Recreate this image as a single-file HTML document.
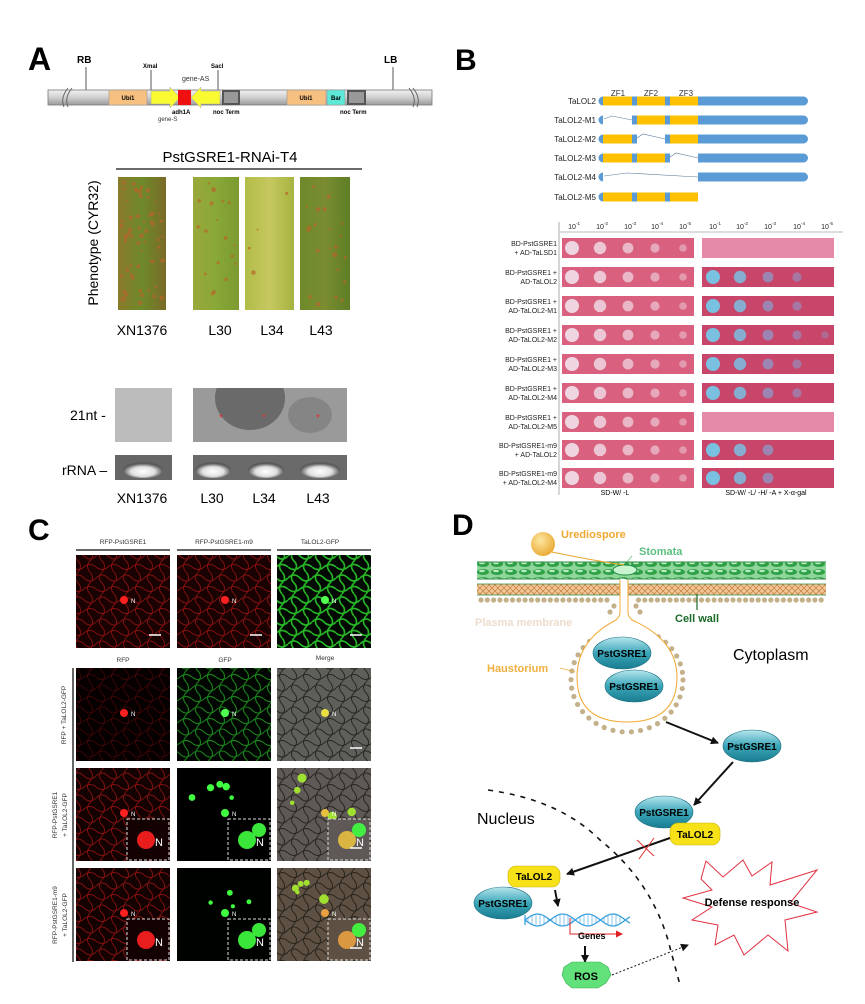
<!DOCTYPE html>
<html><head><meta charset="utf-8"><style>
html,body{margin:0;padding:0;background:#fff;}
svg{display:block;font-family:"Liberation Sans",Arial,sans-serif;}
</style></head><body>
<svg id="s" width="865" height="1004" viewBox="0 0 865 1004" xmlns="http://www.w3.org/2000/svg">
<defs id="defs">
<linearGradient id="bar" x1="0" y1="0" x2="0" y2="1"><stop offset="0" stop-color="#f2f2f2"/><stop offset="0.5" stop-color="#cfcfcf"/><stop offset="1" stop-color="#9a9a9a"/></linearGradient>
<linearGradient id="leafA" x1="0" y1="0" x2="1" y2="0"><stop offset="0" stop-color="#8a7a2a"/><stop offset="0.5" stop-color="#6e8a2a"/><stop offset="1" stop-color="#7a6a28"/></linearGradient>
<linearGradient id="leafB" x1="0" y1="0" x2="1" y2="0"><stop offset="0" stop-color="#9aa83a"/><stop offset="0.5" stop-color="#88a838"/><stop offset="1" stop-color="#7c9a30"/></linearGradient>
<linearGradient id="leafC" x1="0" y1="0" x2="1" y2="0"><stop offset="0" stop-color="#b2bc48"/><stop offset="0.5" stop-color="#c6c860"/><stop offset="1" stop-color="#a6b440"/></linearGradient>
<linearGradient id="leafD" x1="0" y1="0" x2="1" y2="0"><stop offset="0" stop-color="#6e8a2a"/><stop offset="0.5" stop-color="#7a8c30"/><stop offset="1" stop-color="#5e7e26"/></linearGradient>
<radialGradient id="rr" cx="0.5" cy="0.6" r="0.5"><stop offset="0" stop-color="#ffffff"/><stop offset="0.6" stop-color="#e0e0e0"/><stop offset="1" stop-color="#5a5a5a"/></radialGradient>
<linearGradient id="ell" x1="0" y1="0" x2="0" y2="1"><stop offset="0" stop-color="#b8e6ee"/><stop offset="0.5" stop-color="#3aa6b8"/><stop offset="1" stop-color="#1a7c90"/></linearGradient>
<radialGradient id="spore" cx="0.4" cy="0.35" r="0.7"><stop offset="0" stop-color="#fde6a0"/><stop offset="1" stop-color="#e8a830"/></radialGradient>
<clipPath id="blotclip"><rect x="193" y="388" width="154" height="54"/></clipPath>
<marker id="ah" markerWidth="8" markerHeight="8" refX="7" refY="4" orient="auto" markerUnits="userSpaceOnUse"><path d="M0,0 L8,4 L0,8 z" fill="#111"/></marker>
<marker id="ahr" markerWidth="7" markerHeight="7" refX="6" refY="3.5" orient="auto" markerUnits="userSpaceOnUse"><path d="M0,0 L7,3.5 L0,7 z" fill="#e02020"/></marker>
<pattern id="cells" width="14" height="8" patternUnits="userSpaceOnUse"><rect width="14" height="8" fill="#8fd69a"/><ellipse cx="7" cy="4" rx="6" ry="3" fill="#2fa048"/><ellipse cx="6" cy="3" rx="3" ry="1.2" fill="#b6ecc0"/></pattern>
<pattern id="wall" width="6" height="6" patternUnits="userSpaceOnUse"><rect width="6" height="6" fill="#f3c79a"/><path d="M0,6 L6,0 M0,0 L6,6" stroke="#c8864a" stroke-width="0.8"/></pattern>
</defs>

<!-- ========== PANEL A ========== -->
<text x="28" y="70" font-size="32" font-weight="bold">A</text>
<text x="77" y="63" font-size="10" font-weight="bold">RB</text>
<line x1="86" y1="67" x2="86" y2="90" stroke="#555"/>
<text x="384" y="63" font-size="10" font-weight="bold">LB</text>
<line x1="393" y1="67" x2="393" y2="90" stroke="#555"/>
<text x="143" y="68" font-size="6" font-weight="bold">XmaI</text>
<line x1="151" y1="70" x2="151" y2="90" stroke="#555"/>
<text x="211" y="68" font-size="6" font-weight="bold">SacI</text>
<line x1="218" y1="70" x2="218" y2="90" stroke="#555"/>
<text x="182" y="81" font-size="7" fill="#333">gene-AS</text>
<rect x="48" y="90" width="384" height="15" fill="url(#bar)" stroke="#777" stroke-width="0.8"/>
<path d="M68,88 q-8,10 -4,19 M72,88 q-8,10 -4,19" stroke="#666" fill="none"/>
<path d="M409,88 q8,10 4,19 M413,88 q8,10 4,19" stroke="#666" fill="none"/>
<rect x="109" y="90" width="38" height="15" fill="#f6c080" stroke="#999" stroke-width="0.6"/>
<text x="128" y="100" font-size="6" text-anchor="middle" font-weight="bold">Ubi1</text>
<path d="M151,91 H170 V87 L180,97.5 L170,108 V104 H151 z" fill="#fafa30" stroke="#aaa" stroke-width="0.5"/>
<rect x="178" y="90" width="13" height="15" fill="#ee1010"/>
<path d="M220,91 H201 V87 L191,97.5 L201,108 V104 H220 z" fill="#fafa30" stroke="#aaa" stroke-width="0.5"/>
<rect x="222" y="90" width="18" height="15" fill="#555"/><rect x="224" y="92" width="14" height="11" fill="#999"/>
<rect x="287" y="90" width="39" height="15" fill="#f6c080" stroke="#999" stroke-width="0.6"/>
<text x="306" y="100" font-size="6" text-anchor="middle" font-weight="bold">Ubi1</text>
<rect x="327" y="90" width="18" height="15" fill="#5ee8d8" stroke="#999" stroke-width="0.6"/>
<text x="336" y="100" font-size="6" text-anchor="middle" font-weight="bold">Bar</text>
<rect x="347" y="90" width="19" height="15" fill="#555"/><rect x="349" y="92" width="15" height="11" fill="#999"/>
<text x="172" y="114" font-size="6" font-weight="bold">adh1A</text>
<text x="158" y="121" font-size="6" fill="#333">gene-S</text>
<text x="213" y="114" font-size="6" font-weight="bold">noc Term</text>
<text x="340" y="114" font-size="6" font-weight="bold">noc Term</text>

<text x="230" y="162" font-size="15" text-anchor="middle">PstGSRE1-RNAi-T4</text>
<line x1="116" y1="169" x2="362" y2="169" stroke="#111" stroke-width="1.2"/>
<rect x="118" y="177" width="48" height="133" fill="url(#leafA)"/>
<rect x="193" y="177" width="46" height="133" fill="url(#leafB)"/>
<rect x="245" y="177" width="49" height="133" fill="url(#leafC)"/>
<rect x="300" y="177" width="50" height="133" fill="url(#leafD)"/>
<g id="rust" fill="#b8662a" opacity="0.7"></g>
<text transform="translate(98,243) rotate(-90)" font-size="14" text-anchor="middle">Phenotype (CYR32)</text>
<text x="142" y="335" font-size="14" text-anchor="middle">XN1376</text>
<text x="220" y="335" font-size="14" text-anchor="middle">L30</text>
<text x="272" y="335" font-size="14" text-anchor="middle">L34</text>
<text x="321" y="335" font-size="14" text-anchor="middle">L43</text>

<rect x="115" y="388" width="57" height="54" fill="#bcbcbc"/>
<rect x="193" y="388" width="154" height="54" fill="#9a9a9a"/>
<g clip-path="url(#blotclip)">
<ellipse cx="250" cy="398" rx="35" ry="32" fill="#3a3a3a" opacity="0.5"/>
<ellipse cx="310" cy="415" rx="22" ry="18" fill="#555" opacity="0.3"/>
</g>
<text x="219" y="421" font-size="10" fill="#e03030">*</text>
<text x="262" y="421" font-size="10" fill="#e03030">*</text>
<text x="316" y="421" font-size="10" fill="#e03030">*</text>
<text x="70" y="420" font-size="14">21nt -</text>
<rect x="115" y="455" width="57" height="25" fill="#666"/>
<rect x="193" y="455" width="154" height="25" fill="#6a6a6a"/>
<ellipse cx="143" cy="470" rx="20" ry="8" fill="url(#rr)"/>
<ellipse cx="213" cy="470" rx="18" ry="8" fill="url(#rr)"/>
<ellipse cx="266" cy="470" rx="18" ry="8" fill="url(#rr)"/>
<ellipse cx="320" cy="470" rx="20" ry="8" fill="url(#rr)"/>
<text x="62" y="475" font-size="14">rRNA –</text>
<text x="142" y="503" font-size="14" text-anchor="middle">XN1376</text>
<text x="212" y="503" font-size="14" text-anchor="middle">L30</text>
<text x="264" y="503" font-size="14" text-anchor="middle">L34</text>
<text x="318" y="503" font-size="14" text-anchor="middle">L43</text>

<!-- ========== PANEL B ========== -->
<text x="455" y="70" font-size="30" font-weight="bold">B</text>
<text x="618" y="96" font-size="8" text-anchor="middle" fill="#333">ZF1</text>
<text x="651" y="96" font-size="8" text-anchor="middle" fill="#333">ZF2</text>
<text x="686" y="96" font-size="8" text-anchor="middle" fill="#333">ZF3</text>
<g id="dom" font-size="8" fill="#222"></g>

<line x1="559" y1="222" x2="559" y2="495" stroke="#bbb" stroke-width="1.2"/>
<line x1="559" y1="232" x2="843" y2="232" stroke="#bbb" stroke-width="1"/>
<g id="hdr" font-size="7" fill="#222" text-anchor="middle"></g>
<g id="plates"></g>
<text x="615" y="495" font-size="7" text-anchor="middle">SD-W/ -L</text>
<text x="766" y="495" font-size="7" text-anchor="middle">SD-W/ -L/ -H/ -A + X-α-gal</text>

<!-- ========== PANEL C ========== -->
<text x="28" y="540" font-size="30" font-weight="bold">C</text>
<text x="123" y="544" font-size="6.5" text-anchor="middle" fill="#333">RFP-PstGSRE1</text>
<text x="224" y="544" font-size="6.5" text-anchor="middle" fill="#333">RFP-PstGSRE1-m9</text>
<text x="320" y="544" font-size="6.5" text-anchor="middle" fill="#333">TaLOL2-GFP</text>
<line x1="76" y1="550" x2="170" y2="550" stroke="#333" stroke-width="1.5"/>
<line x1="177" y1="550" x2="271" y2="550" stroke="#333" stroke-width="1.5"/>
<line x1="277" y1="550" x2="371" y2="550" stroke="#333" stroke-width="1.5"/>
<text x="123" y="662" font-size="6.5" text-anchor="middle" fill="#333">RFP</text>
<text x="225" y="662" font-size="6.5" text-anchor="middle" fill="#333">GFP</text>
<text x="325" y="660" font-size="6.5" text-anchor="middle" fill="#333">Merge</text>
<line x1="73" y1="668" x2="73" y2="962" stroke="#333" stroke-width="1.5"/>
<text transform="translate(66,715) rotate(-90)" font-size="6.5" text-anchor="middle" fill="#333">RFP + TaLOL2-GFP</text>
<text transform="translate(57,815) rotate(-90)" font-size="6.5" text-anchor="middle" fill="#333">RFP-PstGSRE1</text>
<text transform="translate(67,815) rotate(-90)" font-size="6.5" text-anchor="middle" fill="#333">+ TaLOL2-GFP</text>
<text transform="translate(57,915) rotate(-90)" font-size="6.5" text-anchor="middle" fill="#333">RFP-PstGSRE1-m9</text>
<text transform="translate(67,915) rotate(-90)" font-size="6.5" text-anchor="middle" fill="#333">+ TaLOL2-GFP</text>
<g id="micro"></g>

<!-- ========== PANEL D ========== -->
<text x="452" y="535" font-size="30" font-weight="bold">D</text>
<rect x="477" y="562" width="349" height="17" fill="url(#cells)"/>
<line x1="477" y1="562" x2="826" y2="562" stroke="#2c8a40"/>
<line x1="477" y1="579" x2="826" y2="579" stroke="#2c8a40"/>
<rect x="477" y="584" width="349" height="11" fill="url(#wall)"/>
<line x1="477" y1="584" x2="826" y2="584" stroke="#2c8a40" stroke-width="0.7"/>
<line x1="477" y1="595" x2="826" y2="595" stroke="#2c8a40" stroke-width="0.7"/>
<ellipse cx="625" cy="570" rx="12" ry="5" fill="#c8f5d0" stroke="#1a8a40"/>
<g id="beads" fill="#c4b18a"></g>
<rect x="620" y="579" width="6" height="22" fill="#fff"/>
<circle cx="543" cy="544" r="12" fill="url(#spore)"/>
<path d="M552,552 Q590,560 624,565" stroke="#e8a830" fill="none" stroke-width="1"/>
<path d="M620,580 V613 Q620,616 616,620 Q577,640 577,677 Q577,722 627,722 Q677,722 677,677 Q677,640 632,620 Q628,616 628,613 V580" fill="#fff" stroke="#f0a830" stroke-width="1"/>
<text x="561" y="538" font-size="11" font-weight="bold" fill="#f0a830">Urediospore</text>
<text x="639" y="555" font-size="11" font-weight="bold" fill="#5cc080">Stomata</text>
<line x1="632" y1="556" x2="627" y2="562" stroke="#5cc080" stroke-width="0.7"/>
<text x="675" y="622" font-size="11" font-weight="bold" fill="#1a6a28">Cell wall</text>
<line x1="697" y1="594" x2="697" y2="610" stroke="#1a6a28" stroke-width="1.2"/>
<text x="475" y="626" font-size="11" font-weight="bold" fill="#eedccc">Plasma membrane</text>
<text x="487" y="672" font-size="11" font-weight="bold" fill="#f0b040">Haustorium</text>
<line x1="560" y1="668" x2="575" y2="672" stroke="#f0b040" stroke-width="0.7"/>
<text x="733" y="660" font-size="16">Cytoplasm</text>
<g font-size="10" font-weight="bold" text-anchor="middle">
<ellipse cx="622" cy="653" rx="29" ry="16" fill="url(#ell)" stroke="#1a6e80" stroke-width="0.6"/><text x="622" y="657">PstGSRE1</text>
<ellipse cx="634" cy="686" rx="29" ry="16" fill="url(#ell)" stroke="#1a6e80" stroke-width="0.6"/><text x="634" y="690">PstGSRE1</text>
<ellipse cx="752" cy="746" rx="29" ry="16" fill="url(#ell)" stroke="#1a6e80" stroke-width="0.6"/><text x="752" y="750">PstGSRE1</text>
<ellipse cx="664" cy="812" rx="29" ry="16" fill="url(#ell)" stroke="#1a6e80" stroke-width="0.6"/><text x="664" y="816">PstGSRE1</text>
<ellipse cx="503" cy="903" rx="29" ry="16" fill="url(#ell)" stroke="#1a6e80" stroke-width="0.6"/><text x="503" y="907">PstGSRE1</text>
<rect x="670" y="823" width="50" height="22" rx="8" fill="#f7e21a" stroke="#c8b000" stroke-width="0.6"/><text x="695" y="838">TaLOL2</text>
<rect x="508" y="866" width="52" height="21" rx="8" fill="#f7e21a" stroke="#c8b000" stroke-width="0.6"/><text x="534" y="880">TaLOL2</text>
</g>
<line x1="666" y1="722" x2="718" y2="743" stroke="#111" stroke-width="2" marker-end="url(#ah)"/>
<line x1="733" y1="762" x2="694" y2="805" stroke="#111" stroke-width="2" marker-end="url(#ah)"/>
<line x1="670" y1="838" x2="567" y2="874" stroke="#111" stroke-width="2" marker-end="url(#ah)"/>
<path d="M637,840 L654,856 M654,838 L639,859" stroke="#e03030" stroke-width="1"/>
<text x="477" y="824" font-size="16">Nucleus</text>
<path d="M488,790 Q560,800 600,840 Q650,880 668,940 L680,985" fill="none" stroke="#111" stroke-width="1.6" stroke-dasharray="5,6"/>
<line x1="555" y1="890" x2="558" y2="906" stroke="#111" stroke-width="2" marker-end="url(#ah)"/>
<g id="dna" fill="none" stroke="#3aa0e0" stroke-width="1.3"></g>
<path d="M570,918 V934 H622" fill="none" stroke="#e02020" stroke-width="1" marker-end="url(#ahr)"/>
<text x="578" y="939" font-size="9" font-weight="bold">Genes</text>
<line x1="585" y1="946" x2="585" y2="962" stroke="#111" stroke-width="2" marker-end="url(#ah)"/>
<path d="M564,967 L572,962 L600,962 L608,967 L611,975 L606,983 L598,988 L572,988 L566,983 L562,975 z" fill="#62e07a" stroke="#3ab050" stroke-width="0.6"/>
<text x="586" y="980" font-size="11" font-weight="bold" text-anchor="middle">ROS</text>
<line x1="612" y1="975" x2="688" y2="945" stroke="#111" stroke-width="1" stroke-dasharray="2,2" marker-end="url(#ah)"/>
<path d="M701,879 L706,861 L723,877 L743,860 L752,876 L772,862 L770,885 L817,870 L790,903 L817,912 L785,920 L788,951 L768,935 L744,955 L734,935 L715,945 L718,925 L692,920 L712,907 L683,898 L712,890 z" fill="#fff" stroke="#e03040" stroke-width="1"/>
<text x="752" y="906" font-size="11" font-weight="bold" text-anchor="middle">Defense response</text>
</svg>
<script>
var NS="http://www.w3.org/2000/svg";
function el(p,t,a){var e=document.createElementNS(NS,t);for(var k in a)e.setAttribute(k,a[k]);p.appendChild(e);return e;}
function $(i){return document.getElementById(i);}
var r=$("rust"),seed=7;function rnd(){seed=(seed*9301+49297)%233280;return seed/233280;}
[[118,48,60],[193,46,18],[245,49,4],[300,50,22]].forEach(function(l){for(var i=0;i<l[2];i++)el(r,"circle",{cx:l[0]+3+rnd()*(l[1]-6),cy:180+rnd()*127,r:1+rnd()*1.5});});
var d=$("dom"),ys=[101,120,139,158,177,197],nm=["TaLOL2","TaLOL2-M1","TaLOL2-M2","TaLOL2-M3","TaLOL2-M4","TaLOL2-M5"];
var B="#5b9bd5",Y="#ffc000";
ys.forEach(function(y,i){var t=el(d,"text",{x:596,y:y+3,"text-anchor":"end"});t.textContent=nm[i];
 el(d,"path",{d:"M603,"+(y-4.5)+" a4.5,4.5 0 0 0 0,9 z",fill:B});
 if(i<5)el(d,"rect",{x:698,y:y-4.5,width:110,height:9,rx:4.5,fill:B});
 if(i<5)el(d,"rect",{x:698,y:y-4.5,width:100,height:9,fill:B});
 var segs=[[603,632],[632,637],[637,665],[665,670],[670,698]];var col=[Y,B,Y,B,Y];
 var skip={1:[0],2:[2],3:[4],4:[0,1,2,3,4]}[i]||[];
 segs.forEach(function(s,j){if(skip.indexOf(j)<0)el(d,"rect",{x:s[0],y:y-4.5,width:s[1]-s[0],height:9,fill:col[j]});});
});
el(d,"path",{d:"M604,119 L612,116 L632,120",stroke:"#5b7a9a",fill:"none","stroke-width":0.6});
el(d,"path",{d:"M637,138 L643,134 L665,139",stroke:"#5b7a9a",fill:"none","stroke-width":0.6});
el(d,"path",{d:"M670,157 L676,153 L698,158",stroke:"#5b7a9a",fill:"none","stroke-width":0.6});
el(d,"path",{d:"M604,176 L627,173 L698,177",stroke:"#5b7a9a",fill:"none","stroke-width":0.6});
var h=$("hdr"),hx=[572,600,628,655,683,713,740,768,797,825];
hx.forEach(function(x,i){var t=el(h,"text",{x:x,y:229});t.textContent="10";var s=el(h,"text",{x:x+6,y:225,"font-size":4.5});s.textContent="-"+(i%5+1);});
var p=$("plates"),ry=[238,267,296,325,354,383,412,440,468];
var lab=[["BD-PstGSRE1","+ AD-TaLSD1"],["BD-PstGSRE1 +","AD-TaLOL2"],["BD-PstGSRE1 +","AD-TaLOL2-M1"],["BD-PstGSRE1 +","AD-TaLOL2-M2"],["BD-PstGSRE1 +","AD-TaLOL2-M3"],["BD-PstGSRE1 +","AD-TaLOL2-M4"],["BD-PstGSRE1 +","AD-TaLOL2-M5"],["BD-PstGSRE1-m9","+ AD-TaLOL2"],["BD-PstGSRE1-m9","+ AD-TaLOL2-M4"]];
var blue=[0,4,4,5,4,4,0,3,3];
ry.forEach(function(y,i){
 el(p,"rect",{x:562,y:y,width:132,height:20,fill:"#d9607f"});
 el(p,"rect",{x:702,y:y,width:132,height:20,fill:(blue[i]?"#c8466a":"#e58aa8")});
 for(var k=0;k<5;k++){var rr=7-k*0.8;el(p,"circle",{cx:hx[k],cy:y+10,r:rr,fill:"#efdbe6",opacity:0.95-k*0.12});
  if(k<blue[i])el(p,"circle",{cx:hx[k+5],cy:y+10,r:rr,fill:k<2?"#7ac0e0":"#8aa0d0",opacity:1-k*0.15});}
 var t=el(p,"text",{x:557,y:y+8,"font-size":7,"text-anchor":"end",fill:"#222"});t.textContent=lab[i][0];
 t=el(p,"text",{x:557,y:y+17,"font-size":7,"text-anchor":"end",fill:"#222"});t.textContent=lab[i][1];
});
var defs=$("defs");
function pat(id,col,w){var pt=el(defs,"pattern",{id:id,width:24,height:22,patternUnits:"userSpaceOnUse"});
 el(pt,"path",{d:"M0,6 q6,-6 12,0 t12,0 M6,0 q-5,6 0,11 t0,11 M0,17 q6,5 12,0 t12,0 M18,0 q5,6 0,11 t0,11",stroke:col,fill:"none","stroke-width":w});}
pat("pr","#a01414",0.9);pat("pr2","#5a0808",0.7);pat("pg","#30e030",1.6);pat("pg2","#20a020",1.1);pat("pm","#1a1a14",1.0);
var m=$("micro"),cx=[76,177,277],cy=[555,668,768,868];
var cfg=[[["#1a0202","pr","#ff2020"],["#1a0202","pr","#ff2020"],["#020802","pg","#50ff50"]],
[["#060000","pr2","#ff2020"],["#020602","pg2","#50ff50"],["#5e5e5a","pm","#e8e040"]],
[["#140202","pr","#ff2020"],["#000000",null,"#40ff40"],["#5e5856","pm","#e8c040"]],
[["#140202","pr","#ff2020"],["#000200",null,"#40ff40"],["#5e5042","pm","#e8a040"]]];
cy.forEach(function(y,r){cx.forEach(function(x,c){var q=cfg[r][c];
 el(m,"rect",{x:x,y:y,width:94,height:93,fill:q[0]});
 if(q[1])el(m,"rect",{x:x,y:y,width:94,height:93,fill:"url(#"+q[1]+")",opacity:0.8});
 el(m,"circle",{cx:x+48,cy:y+45,r:4,fill:q[2]});
 if(r>=2&&c>0){for(var k=0;k<5;k++)el(m,"circle",{cx:x+15+rnd()*60,cy:y+10+rnd()*40,r:2+rnd()*3,fill:c==1?"#40ff40":"#a0e030"});}
 if(r>=2){el(m,"rect",{x:x+51,y:y+51,width:42,height:41,fill:q[0],stroke:"#ddd","stroke-dasharray":"3,2"});
  el(m,"circle",{cx:x+70,cy:y+72,r:9,fill:q[2],opacity:0.9});
  if(c>0)el(m,"circle",{cx:x+82,cy:y+62,r:7,fill:"#40ff40",opacity:0.9});
  var tt=el(m,"text",{x:x+79,y:y+78,"font-size":11,fill:"#fff"});tt.textContent="N";}
 if(r==0||c==2&&r>0)el(m,"line",{x1:x+73,y1:y+80,x2:x+85,y2:y+80,stroke:"#fff","stroke-width":1.5});
 var t=el(m,"text",{x:x+55,y:y+48,"font-size":6,fill:"#fff"});t.textContent="N";
});});
var b=$("beads");
for(var x=481;x<826;x+=6.3){if(x>612&&x<636)continue;el(b,"circle",{cx:x,cy:600,r:2.6});}
for(var a=0;a<360;a+=9.5){var rad=a*Math.PI/180;var bx=627+56*Math.cos(rad),by=680+52*Math.sin(rad);if(by<625&&Math.abs(bx-624)<14)continue;el(b,"circle",{cx:bx,cy:by,r:2.6});}
[[614,606],[610,612],[636,606],[640,612]].forEach(function(q){el(b,"circle",{cx:q[0],cy:q[1],r:2.6});});
var dn=$("dna"),s1="M525,925",s2="M525,915";
for(var x=525;x<=630;x+=3){var yy=920+6*Math.sin((x-525)/8);var y2=920-6*Math.sin((x-525)/8);s1+=" L"+x+","+yy.toFixed(1);s2+=" L"+x+","+y2.toFixed(1);}
el(dn,"path",{d:s1});el(dn,"path",{d:s2});
for(var x=528;x<628;x+=4){el(dn,"line",{x1:x,y1:920+5*Math.sin((x-525)/8),x2:x,y2:920-5*Math.sin((x-525)/8),"stroke-width":0.6});}
</script>
</body></html>
